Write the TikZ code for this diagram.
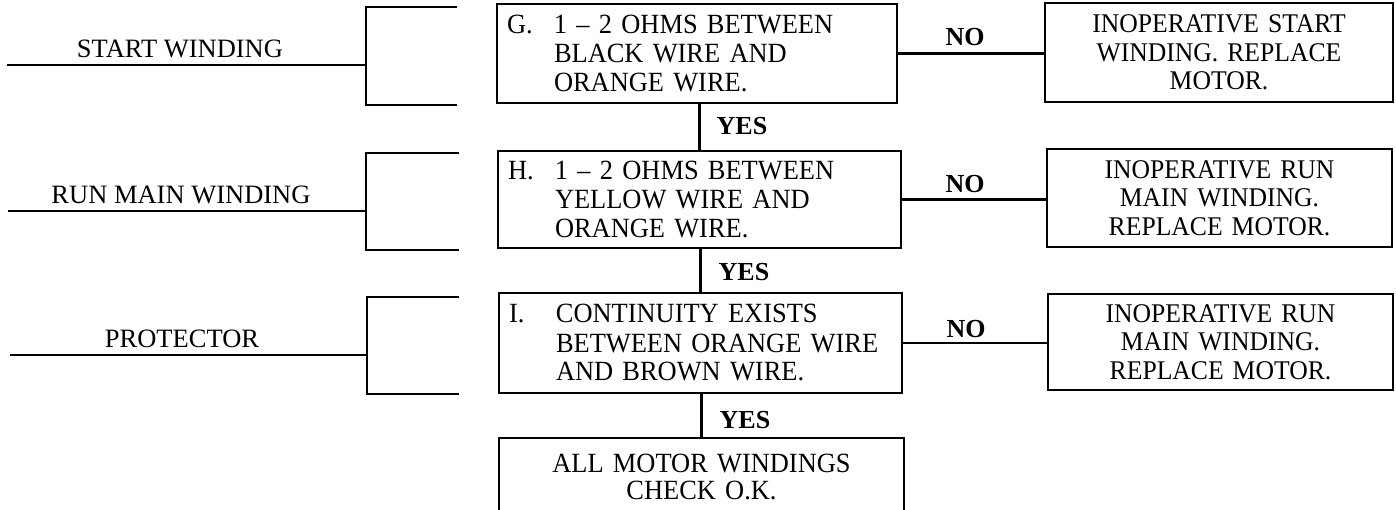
\documentclass[tikz,border=0pt]{standalone}
\usepackage{fontspec}
\setmainfont{Liberation Serif}
\newfontfamily\boxfont{Liberation Serif}[FakeStretch=0.95,Ligatures=TeX]
\begin{document}
\begin{tikzpicture}[x=1pt,y=-1pt,line width=2.4pt,
  testbox/.style={draw, line width=2.4pt, inner xsep=10pt, inner ysep=0pt, align=left,
    font=\boxfont\fontsize{27.8}{29}\selectfont},
  resultbox/.style={draw, line width=2.4pt, inner xsep=6pt, inner ysep=0pt, align=center,
    font=\boxfont\fontsize{27}{28.5}\selectfont},
  lbl/.style={font=\fontsize{26}{30}\selectfont\bfseries, inner sep=0pt, anchor=base},
  side/.style={font=\fontsize{26.5}{30}\selectfont, inner sep=0pt, anchor=base}]
\useasboundingbox (0,0) rectangle (1396,509);

% test boxes
\node[testbox, text width=380pt, minimum height=99pt] (G) at (697,53.5)
  {\makebox[47pt][l]{G.}1 \textendash{} 2 OHMS BETWEEN\\\hspace*{47pt}BLACK WIRE AND\\\hspace*{47pt}ORANGE WIRE.};
\node[testbox, text width=383pt, minimum height=97pt] (H) at (699.5,199.5)
  {\makebox[47pt][l]{H.}1 \textendash{} 2 OHMS BETWEEN\\\hspace*{47pt}YELLOW WIRE AND\\\hspace*{47pt}ORANGE WIRE.};
\node[testbox, text width=383pt, minimum height=100pt] (I) at (700.5,343)
  {\makebox[47pt][l]{I.}CONTINUITY EXISTS\\\hspace*{47pt}BETWEEN ORANGE WIRE\\\hspace*{47pt}AND BROWN WIRE.};

% result boxes
\node[resultbox, text width=336pt, minimum height=99pt] (R1) at (1219,52.5)
  {INOPERATIVE START\\WINDING. REPLACE\\MOTOR.};
\node[resultbox, text width=333pt, minimum height=98pt] (R2) at (1219.5,198)
  {INOPERATIVE RUN\\MAIN WINDING.\\REPLACE MOTOR.};
\node[resultbox, text width=333pt, minimum height=96pt] (R3) at (1220.5,342)
  {INOPERATIVE RUN\\MAIN WINDING.\\REPLACE MOTOR.};

% final box (cut off at the bottom)
\node[anchor=north, inner xsep=10pt, inner ysep=15pt, text width=383pt, align=center,
  font=\boxfont\fontsize{27.8}{27}\selectfont] (F) at (701.5,438)
  {ALL MOTOR WINDINGS\\CHECK O.K.};
\draw (F.south west) -- (F.north west) -- (F.north east) -- (F.south east);

% NO connectors
\draw (G.east) -- (R1.west |- G.east);
\draw (H.east) -- (R2.west |- H.east);
\draw (I.east) -- (R3.west |- I.east);
\node[lbl] (no1) at (965,45) {NO};
\node[lbl] (no2) at (965,192) {NO};
\node[lbl] (no3) at (966,337) {NO};

% YES connectors
\draw (H.north) -- (H.north |- G.south);
\draw (I.north) -- (I.north |- H.south);
\draw (F.north) -- (F.north |- I.south);
\node[lbl] (yes1) at (742,134) {YES};
\node[lbl] (yes2) at (744,280) {YES};
\node[lbl] (yes3) at (745,428) {YES};

% brackets with side labels
\coordinate (b1) at (366,65);  \coordinate (s1) at (7,65);
\draw (457,7) -- (366,7) -- (366,105) -- (457,105);
\draw (s1) -- (b1);
\node[side] (t1) at (180,57) {START WINDING};

\coordinate (b2) at (366,211); \coordinate (s2) at (8,211);
\draw (459,153) -- (366,153) -- (366,250) -- (459,250);
\draw (s2) -- (b2);
\node[side] (t2) at (181,203) {RUN MAIN WINDING};

\coordinate (b3) at (367,355); \coordinate (s3) at (10,355);
\draw (459,297) -- (367,297) -- (367,394) -- (459,394);
\draw (s3) -- (b3);
\node[side] (t3) at (182,347) {PROTECTOR};
\end{tikzpicture}
\end{document}
